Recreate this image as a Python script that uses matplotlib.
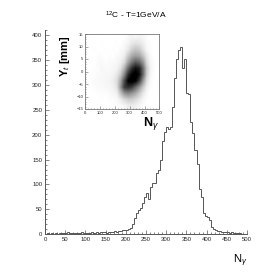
import numpy as np
import matplotlib
matplotlib.use("Agg")
import matplotlib.pyplot as plt
from matplotlib.ticker import MultipleLocator

plt.rcParams['font.family'] = ['Liberation Sans', 'DejaVu Sans']
plt.rcParams['mathtext.fontset'] = 'custom'
plt.rcParams['mathtext.rm'] = 'Liberation Sans'
plt.rcParams['mathtext.it'] = 'Liberation Sans:italic'
plt.rcParams['mathtext.bf'] = 'Liberation Sans:bold'

# ---- data: N_gamma histogram, 5-unit bins from 0 to 500 ----
bin_edges = np.arange(0, 505, 5)
counts = [
    1, 2, 1, 2, 1, 2, 1, 2, 3, 2, 3, 4, 2, 3, 2, 3, 2, 3, 4, 3,
    2, 3, 3, 4, 3, 4, 3, 4, 5, 4, 3, 4, 5, 4, 6, 5, 7, 6, 8, 9,
    8, 10, 12, 20, 32, 42, 49, 52, 63, 75, 82, 70, 95, 102, 102, 123, 130, 150, 188, 206,
    216, 212, 216, 256, 313, 351, 369, 376, 334, 352, 283, 281, 226, 203, 169, 142, 90, 75, 43, 37,
    34, 29, 15, 11, 9, 7, 6, 5, 4, 5, 4, 3, 4, 2, 3, 2, 2, 1, 1, 0,
]

# ---- data: inset density of (N_gamma, Y_t), rows from Y=+15 (top) to -15 ----
dens_x_range = (0, 500)
dens_y_range = (-15, 15)
density_top_to_bottom = [
    # 0  25  50  75 100 125 150 175 200 225 250 275 300 325 350 375 400 425 450 475
    [0, 0, 0, 0, 0, 0, 0, 0, 0, 0, 0, .2, .4, .3, .4, .3, .1, 0, 0, 0],
    [0, 0, 0, 0, .1, 0, 0, 0, .1, 0, .2, .4, .8, 1., .9, .6, .2, .1, 0, 0],
    [0, 0, .1, 0, 0, .1, 0, .1, 0, .2, .3, .8, 1.6, 2.0, 1.8, 1.0, .3, .1, 0, 0],
    [0, 0, 0, .1, .1, 0, .1, 0, .2, .3, .6, 1.8, 2.8, 3.2, 3.0, 2.0, .8, .2, 0, 0],
    [0, .1, 0, .2, .2, .1, .2, .2, .3, .5, 1.2, 3.0, 4.5, 5.5, 5.0, 3.5, 1.2, .3, .1, 0],
    [0, 0, .1, .1, .3, .2, .2, .3, .4, 1.0, 2.5, 5.0, 7.0, 8.0, 7.5, 5.0, 1.8, .4, .1, 0],
    [0, .1, .1, .2, .2, .3, .3, .4, .8, 1.8, 4.0, 7.0, 8.5, 9.0, 8.0, 5.0, 1.6, .3, 0, 0],
    [0, .1, .2, .2, .3, .3, .4, .6, 1.2, 3.0, 6.0, 8.5, 9.0, 8.5, 6.5, 3.5, 1.0, .2, 0, 0],
    [0, 0, .1, .2, .2, .3, .3, .5, 1.0, 3.5, 6.5, 7.0, 6.5, 5.0, 3.5, 1.8, .5, .1, 0, 0],
    [0, 0, 0, .1, .1, .1, .2, .3, .5, 2.0, 3.5, 4.0, 3.5, 2.8, 1.8, .8, .2, 0, 0, 0],
    [0, 0, 0, 0, .1, 0, .1, .1, .2, .6, 1.2, 1.6, 1.6, 1.2, .8, .3, .1, 0, 0, 0],
    [0, 0, 0, 0, 0, 0, 0, .1, .1, .2, .3, .6, .6, .5, .3, .1, 0, 0, 0, 0],
]

# ---- figure ----
W = H = 276
fig = plt.figure(figsize=(W / 100, H / 100), dpi=100)

ax_l, ax_r, ax_b, ax_t = 45, 247, 234.3, 30
ax = fig.add_axes([ax_l / W, 1 - ax_b / H, (ax_r - ax_l) / W, (ax_b - ax_t) / H])
ax.stairs(counts, bin_edges, color='#555555', linewidth=0.7)
ax.set_xlim(0, 500)
ax.set_ylim(0, 410)
for s in ['top', 'right']:
    ax.spines[s].set_visible(False)
for s in ['left', 'bottom']:
    ax.spines[s].set_color('#555555')
    ax.spines[s].set_linewidth(0.7)
ax.xaxis.set_major_locator(MultipleLocator(50))
ax.xaxis.set_minor_locator(MultipleLocator(10))
ax.yaxis.set_major_locator(MultipleLocator(50))
ax.yaxis.set_minor_locator(MultipleLocator(10))
ax.tick_params(which='both', direction='in', colors='#555555', labelcolor='#222222',
               width=0.5, labelsize=4.3, pad=2)
ax.tick_params(which='major', length=3)
ax.tick_params(which='minor', length=1.5)
ax.set_yticks([t for t in range(0, 401, 50)])

fig.text(240 / W, 1 - 261 / H, r'N$_{\gamma}$', fontsize=8, ha='center', va='center')
fig.text(136 / W, 1 - 15 / H, r'$^{12}$C - T=1GeV/A', fontsize=6, ha='center', va='center')

# ---- inset ----
in_l, in_r, in_t, in_b = 85.3, 159.3, 34, 109
axi = fig.add_axes([in_l / W, 1 - in_b / H, (in_r - in_l) / W, (in_b - in_t) / H])
axi.imshow(density_top_to_bottom, cmap='gray_r', vmin=0, vmax=8.5,
           extent=[dens_x_range[0], dens_x_range[1], dens_y_range[0], dens_y_range[1]],
           aspect='auto', interpolation='bilinear', origin='upper')
axi.set_xlim(0, 500)
axi.set_ylim(-15, 15)
for s in axi.spines.values():
    s.set_color('#777777')
    s.set_linewidth(0.6)
axi.xaxis.set_major_locator(MultipleLocator(100))
axi.xaxis.set_minor_locator(MultipleLocator(20))
axi.yaxis.set_major_locator(MultipleLocator(5))
axi.yaxis.set_minor_locator(MultipleLocator(1))
axi.tick_params(which='both', direction='in', colors='#666666', labelcolor='#222222',
                width=0.4, labelsize=3.0, pad=1.5)
axi.tick_params(which='major', length=2)
axi.tick_params(which='minor', length=1)

fig.text(151 / W, 1 - 124 / H, r'$\mathbf{N}_{\gamma}$', fontsize=9, ha='center', va='center')
fig.text(65 / W, 1 - 56 / H, r'$\mathbf{Y}_{t}$ [mm]', fontsize=8, ha='center', va='center',
         rotation=90, fontweight='bold')

fig.savefig('out.png', dpi=100)
